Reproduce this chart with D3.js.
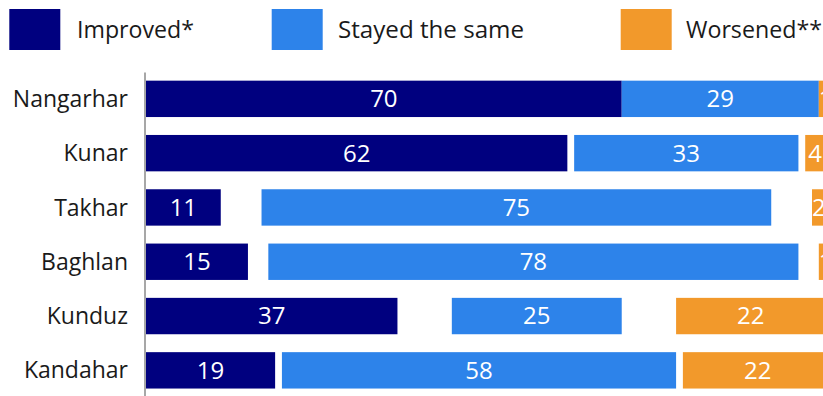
<!DOCTYPE html>
<html>
<head>
<meta charset="utf-8">
<script src="https://cdn.jsdelivr.net/npm/d3@7"></script>
<style>
  html, body { margin: 0; padding: 0; background: #ffffff; }
  svg { display: block; }
  text { font-family: "Open Sans", "Noto Sans", sans-serif; }
</style>
</head>
<body>
<svg id="chart" width="823" height="396"></svg>
<script>
// ---- data ----
const categories = ["Nangarhar", "Kunar", "Takhar", "Baghlan", "Kunduz", "Kandahar"];
const improved   = [70, 62, 11, 15, 37, 19];
const stayedSame = [29, 33, 75, 78, 25, 58];
const worsened   = [1, 4, 2, 1, 22, 22];
// remaining share (not shown), left blank evenly on both sides of "Stayed the same"
const notShown   = [0, 2, 12, 6, 16, 2];
const seriesNames = ["Improved*", "Stayed the same", "Worsened**"];
const seriesColors = ["#00007f", "#2d83ea", "#f2992b"];

// ---- layout ----
const W = 823;
const svg = d3.select("#chart");

const x = d3.scaleLinear().domain([0, 100]).range([146, 825.6]);
const y = d3.scaleBand().domain(categories).range([71.7, 397.5])
  .paddingInner(0.33).paddingOuter(0.165);
const color = d3.scaleOrdinal().domain(seriesNames).range(seriesColors);

// build segments
const segments = [];
categories.forEach((c, i) => {
  const gap = notShown[i] / 2;
  const s0 = 0, s1 = improved[i];
  const m0 = s1 + gap, m1 = m0 + stayedSame[i];
  const w0 = m1 + gap, w1 = w0 + worsened[i];
  segments.push({cat: c, series: seriesNames[0], v: improved[i], x0: s0, x1: s1});
  segments.push({cat: c, series: seriesNames[1], v: stayedSame[i], x0: m0, x1: m1});
  segments.push({cat: c, series: seriesNames[2], v: worsened[i], x0: w0, x1: w1});
});

// bars
svg.append("g").selectAll("rect").data(segments).join("rect")
  .attr("x", d => x(d.x0))
  .attr("y", d => y(d.cat))
  .attr("width", d => x(d.x1) - x(d.x0))
  .attr("height", y.bandwidth())
  .attr("fill", d => color(d.series));

// value labels
const vfs = 24;
svg.append("g").selectAll("text").data(segments).join("text")
  .attr("y", d => y(d.cat) + y.bandwidth() / 2 + vfs * 0.35)
  .attr("text-anchor", "middle")
  .attr("font-size", vfs)
  .attr("fill", "#ffffff")
  .text(d => d.v)
  .attr("x", function(d) {
    const hw = this.getComputedTextLength() / 2;
    const c = (x(d.x0) + x(d.x1)) / 2;
    return Math.max(x(d.x0) + hw, Math.min(c, W - 1 - hw));
  });

// category axis
const cfs = 23;
const yAxis = d3.axisLeft(y).tickSize(0).tickPadding(17);
const ga = svg.append("g").attr("transform", "translate(145,0)").call(yAxis);
ga.select(".domain").attr("d", "M0,72.5V396").attr("stroke", "#8a8a8a").attr("stroke-width", 1.5);
ga.selectAll(".tick text")
  .attr("font-family", "\"Open Sans\", sans-serif")
  .attr("font-size", cfs)
  .attr("fill", "#1a1a1a")
  .attr("dy", null)
  .attr("y", cfs * 0.35);

// legend
const legendX = [9.3, 271.7, 620.7];
const legendTextX = [77, 338, 686];
const legendTextW = [117, 186, 136];
const leg = svg.append("g").selectAll("g").data(seriesNames).join("g")
  .attr("transform", (d, i) => `translate(${legendX[i]},0)`);
leg.append("rect")
  .attr("x", 0).attr("y", 9).attr("width", 51).attr("height", 41)
  .attr("fill", d => color(d));
leg.append("text")
  .attr("x", (d, i) => legendTextX[i] - legendX[i]).attr("y", 37.5)
  .attr("font-size", 24)
  .attr("textLength", (d, i) => legendTextW[i])
  .attr("lengthAdjust", "spacingAndGlyphs")
  .attr("fill", "#1a1a1a")
  .text(d => d);
</script>
</body>
</html>
